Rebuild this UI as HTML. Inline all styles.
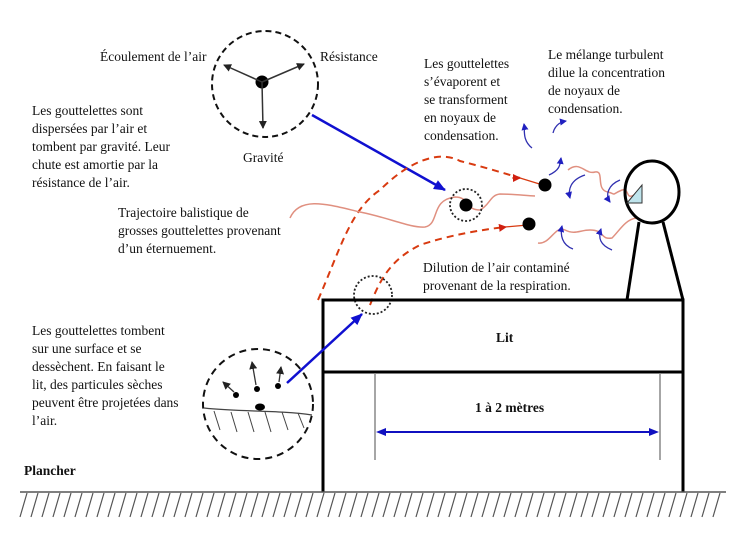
<!DOCTYPE html>
<html><head><meta charset="utf-8"><style>
body{margin:0;background:#fff}
svg{display:block}
text{font-family:"Liberation Serif",serif;font-size:13.5px;fill:#111}
</style></head><body>
<svg width="740" height="538" viewBox="0 0 740 538" xmlns="http://www.w3.org/2000/svg">
<defs>
<marker id="bk" markerWidth="8" markerHeight="8" refX="7" refY="4" orient="auto" markerUnits="userSpaceOnUse"><path d="M0,0 L8,4 L0,8z" fill="#222"/></marker>
<marker id="bl" markerWidth="12" markerHeight="10" refX="11" refY="5" orient="auto" markerUnits="userSpaceOnUse"><path d="M0,0 L12,5 L0,10z" fill="#1010d0"/></marker>
<marker id="bs" markerWidth="7" markerHeight="7" refX="6" refY="3.5" orient="auto" markerUnits="userSpaceOnUse"><path d="M0,0 L7,3.5 L0,7z" fill="#2020c0"/></marker>
<marker id="rd" markerWidth="8" markerHeight="8" refX="7" refY="4" orient="auto" markerUnits="userSpaceOnUse"><path d="M0,0 L8,4 L0,8z" fill="#d02010"/></marker>
</defs>
<!-- top circle -->
<circle cx="265" cy="84" r="53" fill="none" stroke="#111" stroke-width="2" stroke-dasharray="6,4"/>
<circle cx="262" cy="82" r="6.5" fill="#000"/>
<line x1="262" y1="82" x2="224" y2="65" stroke="#333" stroke-width="1.5" marker-end="url(#bk)"/>
<line x1="262" y1="82" x2="304" y2="64" stroke="#333" stroke-width="1.5" marker-end="url(#bk)"/>
<line x1="262" y1="82" x2="263" y2="128" stroke="#333" stroke-width="1.5" marker-end="url(#bk)"/>
<text x="100" y="61" font-size="12.5">Écoulement de l’air</text>
<text x="320" y="61" font-size="12.5">Résistance</text>
<text x="243" y="162" font-size="12.5">Gravité</text>
<line x1="312" y1="115" x2="445" y2="190" stroke="#1010d0" stroke-width="2.5" marker-end="url(#bl)"/>
<!-- left text -->
<text x="32" y="115">Les gouttelettes sont</text>
<text x="32" y="133">dispersées par l’air et</text>
<text x="32" y="151">tombent par gravité. Leur</text>
<text x="32" y="169">chute est amortie par la</text>
<text x="32" y="187">résistance de l’air.</text>
<text x="118" y="217">Trajectoire balistique de</text>
<text x="118" y="235">grosses gouttelettes provenant</text>
<text x="118" y="253">d’un éternuement.</text>
<text x="424" y="68">Les gouttelettes</text>
<text x="424" y="86">s’évaporent et</text>
<text x="424" y="104">se transforment</text>
<text x="424" y="122">en noyaux de</text>
<text x="424" y="140">condensation.</text>
<text x="548" y="59">Le mélange turbulent</text>
<text x="548" y="77">dilue la concentration</text>
<text x="548" y="95">de noyaux de</text>
<text x="548" y="113">condensation.</text>
<text x="423" y="272">Dilution de l’air contaminé</text>
<text x="423" y="290">provenant de la respiration.</text>
<text x="32" y="335">Les gouttelettes tombent</text>
<text x="32" y="353">sur une surface et se</text>
<text x="32" y="371">dessèchent. En faisant le</text>
<text x="32" y="389">lit, des particules sèches</text>
<text x="32" y="407">peuvent être projetées dans</text>
<text x="32" y="425">l’air.</text>
<text x="24" y="475" font-weight="bold">Plancher</text>
<!-- trajectories -->
<path d="M318,300 C340,250 350,210 380,190 C410,160 440,150 460,161 C480,166 500,172 520,178" fill="none" stroke="#d83a10" stroke-width="2" stroke-dasharray="7,5"/>
<line x1="520" y1="178" x2="546" y2="186" stroke="#d83a10" stroke-width="1.2"/>
<path d="M512,178 l8,0" stroke="#d83a10" marker-end="url(#rd)"/>
<path d="M370,305 C380,280 390,260 420,245 C450,235 480,230 505,227" fill="none" stroke="#d83a10" stroke-width="2" stroke-dasharray="7,5"/>
<line x1="505" y1="227" x2="528" y2="225" stroke="#d83a10" stroke-width="1.2"/>
<path d="M498,228 l8,-1" stroke="#d83a10" marker-end="url(#rd)"/>
<path d="M290,218 C300,195 330,205 360,212 C390,218 410,228 425,227 C440,224 430,200 455,197 C470,197 465,210 480,210 C490,205 490,195 500,194 C510,194 520,195 535,196" fill="none" stroke="#e09080" stroke-width="1.5"/>
<path d="M568,170 C580,160 585,175 595,172 C605,170 595,190 608,192 C618,195 610,195 622,190 C630,188 625,200 634,195" fill="none" stroke="#e09080" stroke-width="1.5"/>
<path d="M538,243 C550,245 555,225 565,230 C575,235 580,230 590,230 C605,230 600,240 612,238 C620,230 625,220 636,218" fill="none" stroke="#e09080" stroke-width="1.5"/>
<circle cx="545" cy="185" r="6.5" fill="#000"/>
<circle cx="466" cy="205" r="6.5" fill="#000"/>
<circle cx="529" cy="224" r="6.5" fill="#000"/>
<circle cx="466" cy="205" r="16" fill="none" stroke="#222" stroke-width="1.8" stroke-dasharray="2,2"/>
<circle cx="373" cy="295" r="19" fill="none" stroke="#222" stroke-width="1.8" stroke-dasharray="2,2"/>
<!-- blue swirls -->
<g fill="none" stroke="#3030b0" stroke-width="1.3">
<path d="M532,148 C522,140 525,130 524,124" marker-end="url(#bs)"/>
<path d="M553,133 C555,125 560,122 566,121" marker-end="url(#bs)"/>
<path d="M549,175 C560,170 560,165 561,158" marker-end="url(#bs)"/>
<path d="M585,175 C570,180 568,190 570,198" marker-end="url(#bs)"/>
<path d="M620,180 C608,185 605,195 610,202" marker-end="url(#bs)"/>
<path d="M573,249 C562,245 560,235 562,226" marker-end="url(#bs)"/>
<path d="M612,250 C600,245 598,238 601,229" marker-end="url(#bs)"/>
</g>
<!-- head -->
<ellipse cx="652" cy="192" rx="27" ry="31" fill="none" stroke="#000" stroke-width="3"/>
<polygon points="627,203 642,185 642,203" fill="#bfe4ec" stroke="#333" stroke-width="1"/>
<line x1="639" y1="222" x2="627" y2="300" stroke="#000" stroke-width="3"/>
<line x1="663" y1="222" x2="683" y2="300" stroke="#000" stroke-width="3"/>
<!-- bed -->
<rect x="323" y="300" width="360" height="72" fill="none" stroke="#000" stroke-width="3"/>
<line x1="323" y1="372" x2="323" y2="492" stroke="#000" stroke-width="3"/>
<line x1="683" y1="372" x2="683" y2="492" stroke="#000" stroke-width="3"/>
<text x="496" y="342" font-weight="bold">Lit</text>
<line x1="375" y1="373" x2="375" y2="460" stroke="#888" stroke-width="1.5"/>
<line x1="660" y1="373" x2="660" y2="460" stroke="#888" stroke-width="1.5"/>
<line x1="385" y1="432" x2="650" y2="432" stroke="#1010c0" stroke-width="2"/>
<path d="M376,432 l10,-4 v8z M659,432 l-10,-4 v8z" fill="#1010c0"/>
<text x="475" y="412" font-weight="bold">1 à 2 mètres</text>
<!-- bottom circle -->
<circle cx="258" cy="404" r="55" fill="none" stroke="#111" stroke-width="2" stroke-dasharray="7,5"/>
<path d="M204,408 C240,412 280,410 312,415" fill="none" stroke="#444" stroke-width="1.3"/>
<g stroke="#444" stroke-width="1"><line x1="214" y1="411" x2="220" y2="430"/><line x1="231" y1="412" x2="237" y2="432"/><line x1="248" y1="412" x2="254" y2="432"/><line x1="265" y1="412" x2="271" y2="432"/><line x1="282" y1="412" x2="288" y2="430"/><line x1="298" y1="413" x2="304" y2="428"/></g>
<ellipse cx="260" cy="407" rx="5" ry="3.5" fill="#000"/>
<circle cx="236" cy="395" r="3" fill="#000"/><circle cx="257" cy="389" r="3" fill="#000"/><circle cx="278" cy="386" r="3" fill="#000"/>
<g stroke="#333" stroke-width="1.3"><line x1="234" y1="392" x2="223" y2="382" marker-end="url(#bk)"/><line x1="256" y1="385" x2="252" y2="362" marker-end="url(#bk)"/><line x1="279" y1="382" x2="281" y2="367" marker-end="url(#bk)"/></g>
<line x1="287" y1="383" x2="362" y2="314" stroke="#1010d0" stroke-width="2.5" marker-end="url(#bl)"/>
<!-- floor -->
<line x1="20" y1="492" x2="726" y2="492" stroke="#555" stroke-width="1.5"/>
<path d="M27,493 L20,517 M38,493 L31,517 M49,493 L42,517 M60,493 L53,517 M71,493 L64,517 M82,493 L75,517 M93,493 L86,517 M104,493 L97,517 M115,493 L108,517 M126,493 L119,517 M137,493 L130,517 M148,493 L141,517 M159,493 L152,517 M170,493 L163,517 M181,493 L174,517 M192,493 L185,517 M203,493 L196,517 M214,493 L207,517 M225,493 L218,517 M236,493 L229,517 M247,493 L240,517 M258,493 L251,517 M269,493 L262,517 M280,493 L273,517 M291,493 L284,517 M302,493 L295,517 M313,493 L306,517 M324,493 L317,517 M335,493 L328,517 M346,493 L339,517 M357,493 L350,517 M368,493 L361,517 M379,493 L372,517 M390,493 L383,517 M401,493 L394,517 M412,493 L405,517 M423,493 L416,517 M434,493 L427,517 M445,493 L438,517 M456,493 L449,517 M467,493 L460,517 M478,493 L471,517 M489,493 L482,517 M500,493 L493,517 M511,493 L504,517 M522,493 L515,517 M533,493 L526,517 M544,493 L537,517 M555,493 L548,517 M566,493 L559,517 M577,493 L570,517 M588,493 L581,517 M599,493 L592,517 M610,493 L603,517 M621,493 L614,517 M632,493 L625,517 M643,493 L636,517 M654,493 L647,517 M665,493 L658,517 M676,493 L669,517 M687,493 L680,517 M698,493 L691,517 M709,493 L702,517 M720,493 L713,517" stroke="#555" stroke-width="1.2"/>
</svg>
</body></html>
